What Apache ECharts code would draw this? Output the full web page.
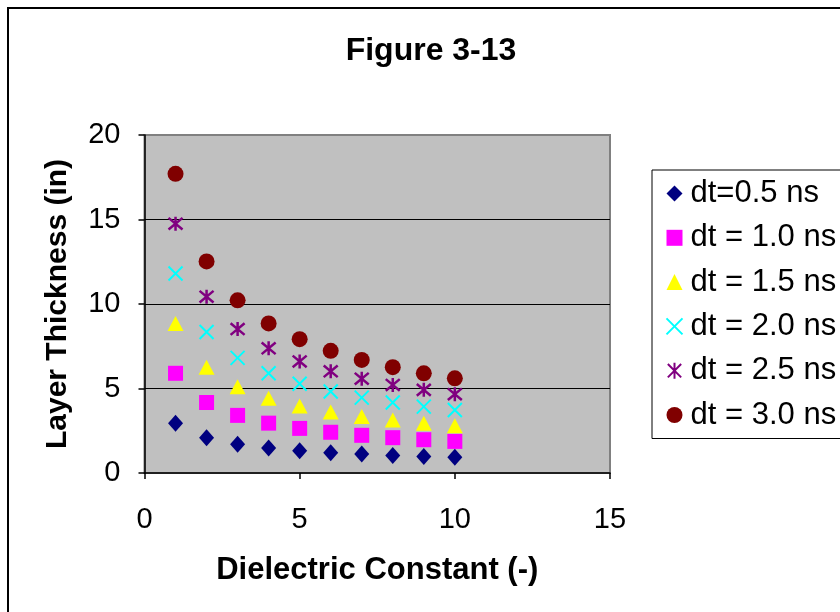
<!DOCTYPE html>
<html>
<head>
<meta charset="utf-8">
<script src="https://cdn.jsdelivr.net/npm/echarts@6/dist/echarts.min.js"></script>
<style>html,body{margin:0;padding:0;background:#fff;}#c{width:840px;height:612px;}</style>
</head>
<body>
<div id="c"></div>
<script>
const categories = [1, 2, 3, 4, 5, 6, 7, 8, 9, 10];
const seriesNames = ['dt=0.5 ns', 'dt = 1.0 ns', 'dt = 1.5 ns', 'dt = 2.0 ns', 'dt = 2.5 ns', 'dt = 3.0 ns'];
const dt05 = [2.95, 2.09, 1.70, 1.48, 1.32, 1.20, 1.12, 1.04, 0.98, 0.93];
const dt10 = [5.90, 4.17, 3.41, 2.95, 2.64, 2.41, 2.23, 2.09, 1.97, 1.87];
const dt15 = [8.85, 6.26, 5.11, 4.43, 3.96, 3.61, 3.35, 3.13, 2.95, 2.80];
const dt20 = [11.80, 8.34, 6.81, 5.90, 5.28, 4.82, 4.46, 4.17, 3.93, 3.73];
const dt25 = [14.75, 10.43, 8.52, 7.38, 6.60, 6.02, 5.58, 5.21, 4.92, 4.66];
const dt30 = [17.70, 12.52, 10.22, 8.85, 7.92, 7.23, 6.69, 6.26, 5.90, 5.60];
const xTicks = [0, 5, 10, 15];
const yTicks = [0, 5, 10, 15, 20];

const FONT = 'Liberation Sans, Arial, sans-serif';
const allValues = [dt05, dt10, dt15, dt20, dt25, dt30];
const symbols = [
  {symbol: 'diamond', size: [15, 17], style: {color: '#000080', opacity: 1}},
  {symbol: 'rect', size: 15, style: {color: '#FF00FF', opacity: 1}},
  {symbol: 'triangle', size: [16, 15], style: {color: '#FFFF00', opacity: 1}},
  {symbol: 'path://M0,0L10,10M10,0L0,10', size: 14, style: {color: 'none', borderColor: '#00FFFF', borderWidth: 2, opacity: 1}},
  {symbol: 'path://M0,0L10,10M10,0L0,10M5,-1L5,11', size: 14, style: {color: 'none', borderColor: '#800080', borderWidth: 2.5, opacity: 1}},
  {symbol: 'circle', size: 16, style: {color: '#800000', opacity: 1}}
];

const series = allValues.map((vals, i) => ({
  name: seriesNames[i],
  type: 'scatter',
  symbol: symbols[i].symbol,
  symbolSize: symbols[i].size,
  itemStyle: symbols[i].style,
  emphasis: {disabled: true},
  data: categories.map((c, j) => [c, vals[j]])
}));

const chart = echarts.init(document.getElementById('c'), null, {renderer: 'canvas'});
chart.setOption({
  animation: false,
  backgroundColor: '#fff',
  textStyle: {fontFamily: FONT},
  title: {
    text: 'Figure 3-13',
    left: 426, top: 30, textAlign: 'center',
    textStyle: {fontFamily: FONT, fontWeight: 'bold', fontSize: 32, color: '#000'}
  },
  graphic: [{
    type: 'rect', shape: {x: 8, y: 8, width: 900, height: 700},
    style: {fill: 'none', stroke: '#000', lineWidth: 2}, z: -1
  }],
  grid: {
    left: 144.5, right: 230, top: 135, bottom: 139,
    show: true, backgroundColor: '#C0C0C0', borderColor: '#808080', borderWidth: 2
  },
  legend: {
    orient: 'vertical', left: 652, top: 170,
    padding: [8, 40, 8, 12],
    itemGap: 13.3, itemWidth: 16, itemHeight: 16,
    borderColor: '#000', borderWidth: 1, backgroundColor: '#fff',
    textStyle: {fontFamily: FONT, fontSize: 31, color: '#000', lineHeight: 30, padding: [0, 0, 0, 3]},
    data: seriesNames
  },
  xAxis: {
    type: 'value', min: 0, max: 15, interval: 5,
    name: 'Dielectric Constant (-)', nameLocation: 'middle', nameGap: 82,
    nameTextStyle: {fontFamily: FONT, fontWeight: 'bold', fontSize: 31, color: '#000'},
    axisLine: {show: true, onZero: false, lineStyle: {color: '#000', width: 1.5}},
    axisTick: {show: true, length: 6, lineStyle: {color: '#000', width: 1.5}},
    axisLabel: {fontFamily: FONT, fontSize: 29, color: '#000', margin: 32,
      formatter: v => xTicks.includes(v) ? String(v) : ''},
    splitLine: {show: false}
  },
  yAxis: {
    type: 'value', min: 0, max: 20, interval: 5,
    name: 'Layer Thickness (in)', nameLocation: 'middle', nameGap: 72,
    nameTextStyle: {fontFamily: FONT, fontWeight: 'bold', fontSize: 30, color: '#000'},
    axisLine: {show: true, onZero: false, lineStyle: {color: '#000', width: 1.5}},
    axisTick: {show: true, length: 6, lineStyle: {color: '#000', width: 1.5}},
    axisLabel: {fontFamily: FONT, fontSize: 29, color: '#000', margin: 24,
      formatter: v => yTicks.includes(v) ? String(v) : ''},
    splitLine: {show: true, showMinLine: false, showMaxLine: false, lineStyle: {color: '#000', width: 1}}
  },
  series: series
});
</script>
</body>
</html>
